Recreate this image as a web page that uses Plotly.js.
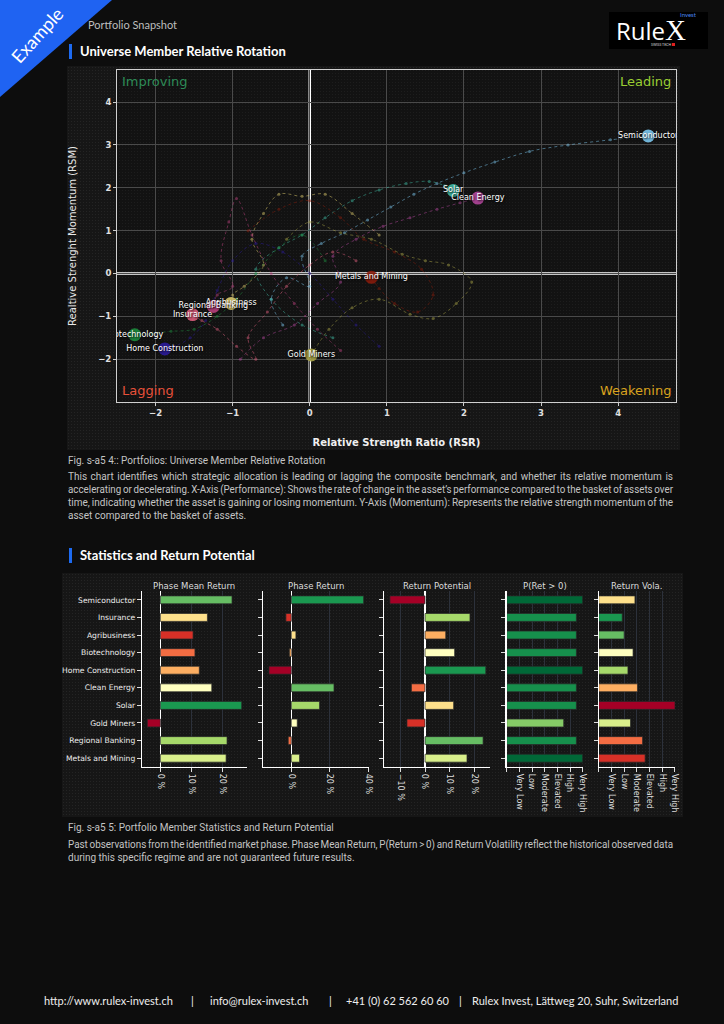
<!DOCTYPE html>
<html>
<head>
<meta charset="utf-8">
<script src="https://cdn.plot.ly/plotly-3.0.1.min.js"></script>
<style>
  html, body { margin:0; padding:0; }
  body { width:724px; height:1024px; background:#0d0d0d; position:relative; overflow:hidden; font-family:'Lato','Open Sans',sans-serif; }
  .abs { position:absolute; }
  .panel { background-color:#161616; background-image:radial-gradient(circle, rgba(255,255,255,0.06) 0.7px, transparent 0.9px); background-size:3px 3px; }
  .sec-title { position:absolute; left:80px; font-family:'Lato',sans-serif; font-weight:700; font-size:13px; color:#fff; line-height:16px; white-space:nowrap; }
  .sec-bar { position:absolute; left:69px; width:3px; height:15px; background:#1d6af0; }
  .cap { position:absolute; left:68px; font-family:'Liberation Sans Narrow','Roboto',sans-serif; font-size:10px; line-height:12px; color:#c4c4c4; white-space:nowrap; transform-origin:0 0; }
  .foot { position:absolute; top:995px; font-family:'Lato',sans-serif; font-size:11px; color:#eee; white-space:nowrap; line-height:12px; }
</style>
</head>
<body>
<!-- Example ribbon -->
<div class="abs" style="left:0;top:0;width:112px;height:97px;background:#1f63f2;clip-path:polygon(0 0,112px 0,0 97px);"></div>
<div class="abs" style="left:-2px;top:24px;font-family:'Lato',sans-serif;font-size:18px;color:#fff;transform:rotate(-48deg);transform-origin:center;width:78px;text-align:center;">Example</div>

<div class="abs" style="left:88px;top:19px;font-family:'Lato',sans-serif;font-size:11px;color:#bdbdbd;line-height:12px;">Portfolio Snapshot</div>

<!-- logo -->
<div class="abs" style="left:609px;top:12px;width:99px;height:37px;background:#000;">
  <span class="abs" style="left:71px;top:0px;font-family:'Lato',sans-serif;font-size:6px;line-height:6px;color:#4a86f0;">Invest</span>
  <span class="abs" style="left:7px;top:7px;font-family:'Open Sans',sans-serif;font-size:24px;line-height:23px;color:#fff;white-space:nowrap;">Rule<span style="font-family:'Liberation Serif',serif;font-size:29px;">X</span></span>
  <span class="abs" style="left:42px;top:31px;font-family:'Lato',sans-serif;font-size:3.5px;line-height:4px;color:#ddd;white-space:nowrap;">SWISS TECH <span style="display:inline-block;width:3px;height:3px;background:#e02020;"></span></span>
</div>

<div class="sec-bar" style="top:44px;"></div>
<div class="sec-title" style="top:43px;">Universe Member Relative Rotation</div>

<div id="rrg" class="abs panel" style="left:67px;top:66px;width:613px;height:384px;"></div>

<div class="cap" style="top:455px;">Fig. s-a5 4:: Portfolios: Universe Member Relative Rotation</div>
<div class="cap jl" style="top:471px;">This chart identifies which strategic allocation is leading or lagging the composite benchmark, and whether its relative momentum is</div>
<div class="cap jl" style="top:484px;">accelerating or decelerating. X-Axis (Performance): Shows the rate of change in the asset’s performance compared to the basket of assets over</div>
<div class="cap jl" style="top:497px;">time, indicating whether the asset is gaining or losing momentum. Y-Axis (Momentum): Represents the relative strength momentum of the</div>
<div class="cap" style="top:510px;">asset compared to the basket of assets.</div>

<div class="sec-bar" style="top:548px;"></div>
<div class="sec-title" style="top:547px;">Statistics and Return Potential</div>

<div id="stats" class="abs panel" style="left:62px;top:573px;width:621px;height:244px;"></div>

<div class="cap" style="top:822px;">Fig. s-a5 5: Portfolio Member Statistics and Return Potential</div>
<div class="cap jl" style="top:839px;">Past observations from the identified market phase. Phase Mean Return, P(Return &gt; 0) and Return Volatility reflect the historical observed data</div>
<div class="cap" style="top:852px;">during this specific regime and are not guaranteed future results.</div>

<div class="foot" style="left:44px;">http://www.rulex-invest.ch</div>
<div class="foot" style="left:191px;">|</div>
<div class="foot" style="left:210px;">info@rulex-invest.ch</div>
<div class="foot" style="left:329px;">|</div>
<div class="foot" style="left:346px;">+41 (0) 62 562 60 60</div>
<div class="foot" style="left:459px;">|</div>
<div class="foot" style="left:472px;">Rulex Invest, Lättweg 20, Suhr, Switzerland</div>

<script>
// fit justified caption lines to the text column (605 px)
(function(){
  const W = 605;
  document.querySelectorAll('.cap.jl').forEach(el => {
    const w = el.getBoundingClientRect().width;
    const spaces = (el.textContent.match(/ /g) || []).length;
    if (w <= W) {
      el.style.wordSpacing = ((W - w) / spaces) + 'px';
    } else {
      const shrink = Math.max((W - w) / spaces, -0.8);
      el.style.wordSpacing = shrink + 'px';
      const w2 = el.getBoundingClientRect().width;
      if (w2 > W) el.style.transform = 'scaleX(' + (W / w2) + ')';
    }
  });
  document.querySelectorAll('.cap:not(.jl)').forEach(el => {
    const w = el.getBoundingClientRect().width;
    if (w > W) el.style.transform = 'scaleX(' + (W / w) + ')';
  });
})();

// ---------------- RRG data ----------------
const members = ['Semiconductor','Solar','Clean Energy','Metals and Mining','Gold Miners','Agribusiness','Regional Banking','Insurance','Biotechnology','Home Construction'];
const memberColors = ['#7cc8f0','#3fb9a2','#b2479c','#8a1c0c','#a8a346','#d8c66a','#b8407c','#e0607f','#1e8c3e','#2c1c9c'];

const semiX = [-0.35,-0.5,-0.3,0.0,-0.1,0.15,0.45,0.75,1.05,1.35,1.65,2.0,2.4,2.85,3.35,3.9,4.39];
const semiY = [-1.2,-0.6,-0.1,-0.3,0.4,0.7,0.95,1.25,1.55,1.85,2.1,2.35,2.6,2.85,3.0,3.12,3.21];
const solarX = [0.3,-0.1,-0.5,-0.7,-0.4,-0.1,0.2,0.55,0.9,1.25,1.55,1.75,1.86];
const solarY = [-1.5,-1.2,-0.6,0.1,0.6,0.9,1.3,1.7,1.95,2.1,2.15,2.05,1.94];
const cleanX = [-0.9,-0.6,-0.2,0.1,0.4,0.3,0.6,0.95,1.3,1.65,1.95,2.18];
const cleanY = [-2.0,-1.5,-1.2,-0.7,-0.2,0.4,0.8,1.1,1.3,1.5,1.65,1.76];
const metalsX = [-0.8,-0.4,0.0,0.4,0.7,1.1,1.45,1.6,1.4,1.1,0.9,0.8];
const metalsY = [1.0,1.5,1.7,1.3,0.8,0.5,0.1,-0.5,-0.9,-0.7,-0.35,-0.09];
const goldX = [-0.3,0.0,0.4,0.8,1.2,1.5,1.8,2.1,1.9,1.6,1.3,0.9,0.55,0.25,0.02];
const goldY = [0.8,1.2,0.95,0.8,0.45,0.3,0.2,-0.2,-0.7,-1.05,-0.95,-0.6,-0.8,-1.3,-1.9];
const agriX = [0.9,0.55,0.2,-0.1,-0.4,-0.6,-0.75,-0.6,-0.85,-1.0,-0.95,-1.02];
const agriY = [0.9,1.4,1.85,1.8,1.85,1.4,0.8,0.2,-0.3,-0.5,-0.6,-0.7];
const regionalX = [0.4,0.1,-0.2,-0.5,-0.75,-0.95,-1.05,-1.15,-1.0,-1.2,-1.25];
const regionalY = [-1.8,-1.3,-0.7,0.0,0.9,1.75,1.2,0.3,-0.3,-0.5,-0.77];
const insX = [0.6,0.3,0.0,-0.3,-0.55,-0.8,-0.7,-0.95,-1.2,-1.4,-1.52];
const insY = [0.3,0.5,0.2,-0.3,-0.9,-1.5,-2.0,-1.7,-1.3,-1.1,-0.96];
const bioX = [0.2,-0.1,-0.4,-0.7,-0.95,-1.2,-1.5,-1.8,-2.05,-2.27];
const bioY = [0.3,0.9,0.6,0.0,-0.6,-1.0,-1.3,-1.35,-1.4,-1.43];
const homeX = [0.9,0.6,0.3,0.0,-0.35,-0.7,-1.0,-1.2,-1.35,-1.55,-1.75,-1.88];
const homeY = [-1.7,-1.2,-0.6,0.0,0.5,0.7,0.3,-0.4,-1.1,-1.5,-1.7,-1.76];

const trailsX = [semiX, solarX, cleanX, metalsX, goldX, agriX, regionalX, insX, bioX, homeX];
const trailsY = [semiY, solarY, cleanY, metalsY, goldY, agriY, regionalY, insY, bioY, homeY];

const quadrants = ['Improving','Leading','Lagging','Weakening'];
const rrgTicks = [-2,-1,0,1,2,3,4];

// ---------------- Stats data ----------------
const categories = ['Semiconductor','Insurance','Agribusiness','Biotechnology','Home Construction','Clean Energy','Solar','Gold Miners','Regional Banking','Metals and Mining'];
const phaseMeanReturn = [23.0,15.1,10.5,11.1,12.5,16.5,26.1,-4.2,21.4,21.1];
const phaseReturn = [37.6,-2.8,2.4,-1.0,-11.6,22.2,14.7,3.1,-1.6,4.3];
const returnPotential = [-14.2,18.2,8.4,12.0,24.6,-5.5,11.6,-7.3,23.5,17.0];
const probPositive = [6,5.5,5.5,5.5,6,5.5,5.5,4.5,5.5,6];
const returnVola = [2.85,1.85,2.0,2.7,2.3,3.05,6.0,2.5,3.45,3.65];
const levelLabels = ['Very Low','Low','Moderate','Elevated','High','Very High'];
const panelTitles = ['Phase Mean Return','Phase Return','Return Potential','P(Ret > 0)','Return Vola.'];

// ---------------- RRG figure ----------------
const rrgTraces = [];
for (let i = 0; i < members.length; i++) {
  rrgTraces.push({
    type:'scatter', mode:'lines+markers', x:trailsX[i], y:trailsY[i],
    line:{color:memberColors[i], width:1, dash:'dot', shape:'spline'},
    marker:{color:memberColors[i], size:3},
    opacity:0.5, hoverinfo:'skip', showlegend:false
  });
}
rrgTraces.push({
  type:'scatter', mode:'markers+text',
  x:trailsX.map(a => a[a.length-1]), y:trailsY.map(a => a[a.length-1]),
  text:members, textposition:'middle center',
  textfont:{family:'DejaVu Sans', size:8, color:'#ffffff', shadow:'1px 1px 2px #000'},
  marker:{color:memberColors, size:13, opacity:0.9},
  showlegend:false, cliponaxis:true
});

const qColors = ['#2e8b57','#9acd32','#e8513a','#d9a21e'];
const rrgLayout = {
  width:613, height:384,
  margin:{l:50, r:4, t:4, b:48},
  paper_bgcolor:'rgba(0,0,0,0)', plot_bgcolor:'rgba(0,0,0,0.18)',
  showlegend:false,
  xaxis:{range:[-2.5,4.75], tickvals:rrgTicks, showgrid:true, gridcolor:'#4a4a4a', gridwidth:1,
         zeroline:false, showline:true, linecolor:'#d0d0d0', linewidth:1, mirror:true,
         ticks:'outside', ticklen:3, tickcolor:'#ccc',
         tickfont:{family:'DejaVu Sans', size:8.5, color:'#e0e0e0', weight:'bold'},
         title:{text:'Relative Strength Ratio (RSR)', standoff:21, font:{family:'DejaVu Sans', size:10, color:'#f0f0f0', weight:'bold'}},
         automargin:false},
  yaxis:{range:[-3,4.75], tickvals:rrgTicks, showgrid:true, gridcolor:'#4a4a4a', gridwidth:1,
         zeroline:false, showline:true, linecolor:'#d0d0d0', linewidth:1, mirror:true,
         ticks:'outside', ticklen:3, tickcolor:'#ccc',
         tickfont:{family:'DejaVu Sans', size:8.5, color:'#e0e0e0', weight:'bold'},
         title:{text:'Realtive Strenght Momentum (RSM)', standoff:19, font:{family:'DejaVu Sans', size:10, color:'#e8e8e8'}},
         automargin:false},
  shapes:[
    {type:'line', xref:'x', yref:'paper', x0:0, x1:0, y0:0, y1:1, line:{color:'#ffffff', width:2.5}, layer:'below'},
    {type:'line', xref:'paper', yref:'y', x0:0, x1:1, y0:0, y1:0, line:{color:'#ffffff', width:2.5}, layer:'below'}
  ],
  annotations:[
    {text:quadrants[0], xref:'paper', yref:'paper', x:0.005, y:0.995, xanchor:'left', yanchor:'top', showarrow:false, font:{family:'DejaVu Sans', size:13, color:qColors[0]}},
    {text:quadrants[1], xref:'paper', yref:'paper', x:0.995, y:0.995, xanchor:'right', yanchor:'top', showarrow:false, font:{family:'DejaVu Sans', size:13, color:qColors[1]}},
    {text:quadrants[2], xref:'paper', yref:'paper', x:0.005, y:0.005, xanchor:'left', yanchor:'bottom', showarrow:false, font:{family:'DejaVu Sans', size:13, color:qColors[2]}},
    {text:quadrants[3], xref:'paper', yref:'paper', x:0.995, y:0.005, xanchor:'right', yanchor:'bottom', showarrow:false, font:{family:'DejaVu Sans', size:13, color:qColors[3]}}
  ]
};
Plotly.newPlot('rrg', rrgTraces, rrgLayout, {displayModeBar:false, staticPlot:true});

// ---------------- Stats figure ----------------
const palette = ['#a50026','#d73027','#f46d43','#fdae61','#fee08b','#ffffbf','#d9ef8b','#a6d96a','#66bd63','#1a9850','#006837'];
function rankColors(vals, reverse) {
  const idx = vals.map((v,i)=>i).sort((a,b)=>vals[a]-vals[b]);
  const out = new Array(vals.length);
  idx.forEach((k,r)=>{ out[k] = reverse ? palette[vals.length-1-r] : palette[r]; });
  return out;
}
function hexToRgb(h){ return [parseInt(h.substr(1,2),16),parseInt(h.substr(3,2),16),parseInt(h.substr(5,2),16)]; }
function scaleColor(t) {
  t = Math.max(0, Math.min(1, t));
  const p = t*(palette.length-1), i = Math.min(Math.floor(p), palette.length-2), f = p-i;
  const a = hexToRgb(palette[i]), b = hexToRgb(palette[i+1]);
  return 'rgb(' + a.map((c,j)=>Math.round(c+(b[j]-c)*f)).join(',') + ')';
}

const doms = [[0.1288,0.2979],[0.3237,0.4944],[0.5185,0.6892],[0.7161,0.8385],[0.8643,0.9871]];
const yDom = [0.205,0.926];
const seriesList = [phaseMeanReturn, phaseReturn, returnPotential, probPositive, returnVola];
const colorList = [rankColors(phaseMeanReturn,false), rankColors(phaseReturn,false), rankColors(returnPotential,false),
                   probPositive.map(v=>scaleColor(v/6)), rankColors(returnVola,true)];
const ranges = [[-5.9,27.8],[-14.7,40.4],[-16.6,26.3],[0,6],[0,6]];
const dticks = [10,20,10,null,null];

const statTraces = [];
const statLayout = {
  width:621, height:244, margin:{l:0,r:0,t:0,b:0},
  paper_bgcolor:'rgba(0,0,0,0)', plot_bgcolor:'rgba(0,0,0,0)',
  showlegend:false, bargap:0.55, annotations:[]
};
const tickFont = {family:'DejaVu Sans', size:8, color:'#dddddd'};
for (let p = 0; p < 5; p++) {
  const sfx = p === 0 ? '' : String(p+1);
  statTraces.push({
    type:'bar', orientation:'h', x:seriesList[p], y:categories,
    xaxis:'x'+sfx, yaxis:'y'+sfx,
    marker:{color:colorList[p], line:{color:'rgba(40,40,40,0.9)', width:0.8}},
    hoverinfo:'skip'
  });
  const xa = {
    domain:doms[p], anchor:'y'+sfx, range:ranges[p], fixedrange:true,
    showline:true, linecolor:'#ffffff', linewidth:1.2,
    ticks:'outside', ticklen:4, tickcolor:'#dddddd', tickangle:90, tickfont:tickFont,
    showgrid:true, gridcolor:'#2c313b', gridwidth:1, automargin:false
  };
  if (p < 3) {
    xa.dtick = dticks[p]; xa.tick0 = 0; xa.ticksuffix = ' %';
    xa.zeroline = true; xa.zerolinecolor = '#ffffff'; xa.zerolinewidth = 1.5;
  } else {
    xa.tickvals = [0,1,2,3,4,5,6]; xa.ticktext = [''].concat(levelLabels); xa.zeroline = false;
  }
  const ya = {
    domain:yDom, anchor:'x'+sfx, type:'category', categoryarray:categories, autorange:'reversed',
    showline:true, linecolor:'#ffffff', linewidth:1.2,
    ticks:'outside', ticklen:4, tickcolor:'#dddddd', showgrid:false, zeroline:false,
    showticklabels: p === 0, tickfont:{family:'DejaVu Sans', size:7.6, color:'#eeeeee'}, automargin:false
  };
  statLayout['xaxis'+sfx] = xa;
  statLayout['yaxis'+sfx] = ya;
  statLayout.annotations.push({
    text:panelTitles[p], xref:'paper', yref:'paper', x:(doms[p][0]+doms[p][1])/2, y:0.948,
    xanchor:'center', yanchor:'middle', showarrow:false,
    font:{family:'DejaVu Sans', size:8.5, color:'#dcdcdc'}
  });
}
Plotly.newPlot('stats', statTraces, statLayout, {displayModeBar:false, staticPlot:true});
</script>
</body>
</html>
